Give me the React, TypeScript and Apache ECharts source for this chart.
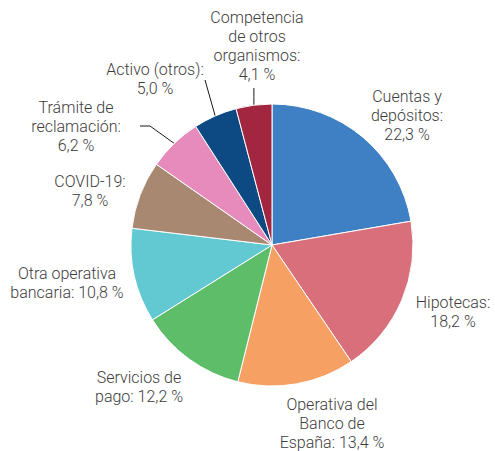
import React, { useEffect, useRef } from "react";
import * as echarts from "echarts";

const categories = [
  "Cuentas y depósitos",
  "Hipotecas",
  "Operativa del Banco de España",
  "Servicios de pago",
  "Otra operativa bancaria",
  "COVID-19",
  "Trámite de reclamación",
  "Activo (otros)",
  "Competencia de otros organismos",
];
const values = [22.3, 18.2, 13.4, 12.2, 10.8, 7.8, 6.2, 5.0, 4.1];
const labelTexts = [
  "Cuentas y\ndepósitos:\n22,3 %",
  "Hipotecas:\n18,2 %",
  "Operativa del\nBanco de\nEspaña: 13,4 %",
  "Servicios de\npago: 12,2 %",
  "Otra operativa\nbancaria: 10,8 %",
  "COVID-19:\n7,8 %",
  "Trámite de\nreclamación:\n6,2 %",
  "Activo (otros):\n5,0 %",
  "Competencia\nde otros\norganismos:\n4,1 %",
];
const colors = [
  "#3f80c4",
  "#d96f7b",
  "#f6a063",
  "#5dbd68",
  "#62c9d3",
  "#a98871",
  "#e68bbb",
  "#0d4983",
  "#a2263f",
];
const withLine = [false, false, false, false, false, false, true, true, true];

// label anchor positions (layout, not data)
const labelPos: [number, number][] = [
  [407, 115],
  [453, 312],
  [332, 423],
  [139, 387],
  [67, 283],
  [90, 191],
  [76, 126],
  [155, 79],
  [257, 46],
];

export default function App() {
  const ref = useRef<HTMLDivElement>(null);
  useEffect(() => {
    const chart = echarts.init(ref.current!, null, { renderer: "svg" });
    chart.setOption({
      animation: false,
      backgroundColor: "#ffffff",
      series: [
        {
          type: "pie",
          center: [272, 245],
          radius: 141,
          startAngle: 90,
          clockwise: true,
          avoidLabelOverlap: false,
          itemStyle: { borderColor: "#ffffff", borderWidth: 1 },
          label: {
            show: true,
            position: "outside",
            color: "#3d3d3d",
            fontFamily: "Roboto",
            fontWeight: 300,
            fontSize: 16,
            lineHeight: 19,
            align: "center",
          },
          labelLine: {
            show: true,
            length: 10,
            length2: 10,
            lineStyle: { color: "#1a1a1a", width: 1 },
          },
          labelLayout: (params: any) => {
            const i = params.dataIndex;
            const [x, y] = labelPos[i];
            const res: any = { x, y, align: "center", verticalAlign: "middle" };
            const p = params.labelLinePoints;
            if (withLine[i] && p && p[0]) {
              const s = p[0];
              if (i === 8) {
                res.labelLinePoints = [s, [s[0], (s[1] + 88) / 2], [s[0], 88]];
              } else if (i === 7) {
                res.labelLinePoints = [s, [(s[0] + 205) / 2, (s[1] + 80) / 2], [205, 80]];
              } else if (i === 6) {
                res.labelLinePoints = [s, [150, 126], [140, 126]];
              }
            }
            return res;
          },
          data: categories.map((name, i) => ({
            name,
            value: values[i],
            itemStyle: { color: colors[i] },
            label: { formatter: labelTexts[i] },
            labelLine: { show: withLine[i] },
          })),
        },
      ],
    });
    return () => chart.dispose();
  }, []);
  return (
    <div
      ref={ref}
      style={{ position: "fixed", left: 0, top: 0, width: 495, height: 451 }}
    />
  );
}
